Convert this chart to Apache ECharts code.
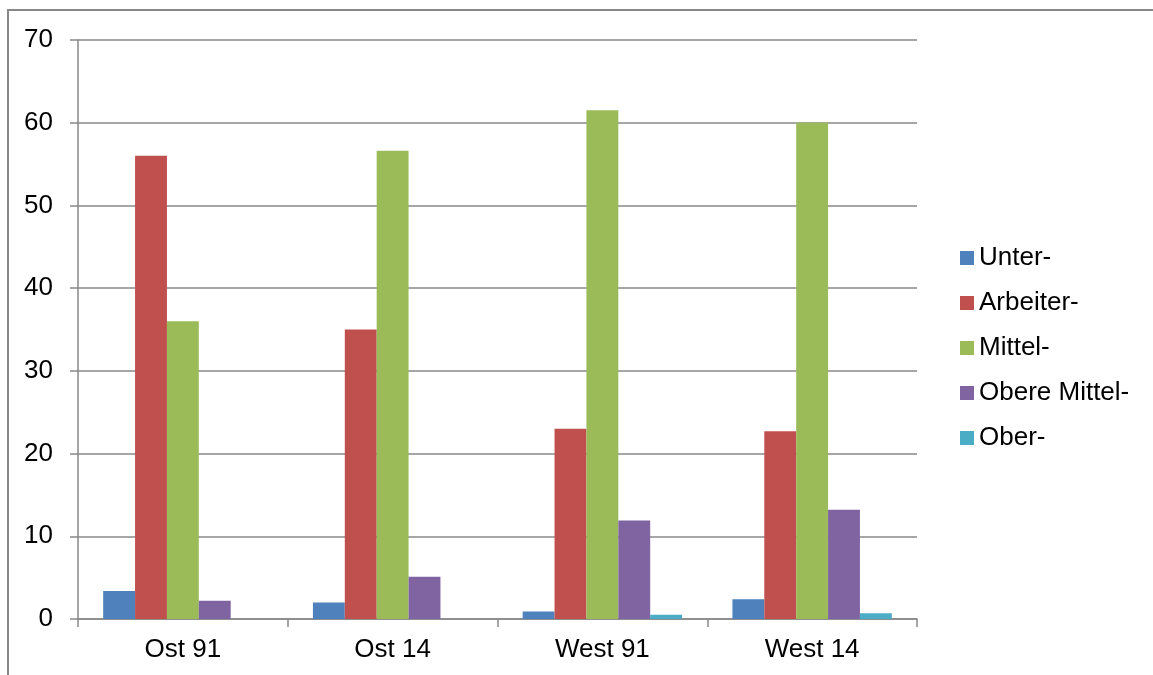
<!DOCTYPE html>
<html>
<head>
<meta charset="utf-8">
<script src="https://cdn.jsdelivr.net/npm/echarts@6/dist/echarts.min.js"></script>
<style>
html,body{margin:0;padding:0;background:#fff;}
#c{width:1153px;height:675px;}
</style>
</head>
<body>
<div id="c"></div>
<script>
const categories = ['Ost 91', 'Ost 14', 'West 91', 'West 14'];
const seriesNames = ['Unter-', 'Arbeiter-', 'Mittel-', 'Obere Mittel-', 'Ober-'];
const unter = [3.4, 2.0, 0.9, 2.4];
const arbeiter = [56.0, 35.0, 23.0, 22.7];
const mittel = [36.0, 56.6, 61.5, 60.0];
const obereMittel = [2.2, 5.1, 11.9, 13.2];
const ober = [0, 0, 0.5, 0.7];
const yTicks = [0, 10, 20, 30, 40, 50, 60, 70];

const colors = ['#4F81BD', '#C0504D', '#9BBB59', '#8064A2', '#4BACC6'];
const values = [unter, arbeiter, mittel, obereMittel, ober];
const font = 'Liberation Sans, Arial, sans-serif';
const lineColor = '#888888';

const chart = echarts.init(document.getElementById('c'), null, {renderer: 'canvas'});
chart.setOption({
  animation: false,
  backgroundColor: '#ffffff',
  color: colors,
  graphic: [{
    type: 'rect',
    shape: {x: 8, y: 10, width: 1300, height: 800},
    style: {fill: 'none', stroke: lineColor, lineWidth: 2},
    silent: true
  }],
  grid: {left: 78, right: 236, top: 40, bottom: 56, containLabel: false},
  legend: {
    orient: 'vertical',
    left: 955,
    top: 240,
    itemWidth: 14,
    itemHeight: 14,
    itemGap: 19,
    icon: 'rect',
    textStyle: {fontFamily: font, fontSize: 26, color: '#000'},
    data: seriesNames
  },
  xAxis: {
    type: 'category',
    data: categories,
    axisLine: {lineStyle: {color: lineColor, width: 1.5}},
    axisTick: {show: true, length: 8, lineStyle: {color: lineColor, width: 1.5}},
    axisLabel: {fontFamily: font, fontSize: 26, color: '#000', margin: 18}
  },
  yAxis: {
    type: 'value',
    min: yTicks[0],
    max: yTicks[yTicks.length - 1],
    interval: 10,
    axisLine: {show: true, lineStyle: {color: lineColor, width: 1.5}},
    axisTick: {show: true, length: 8, lineStyle: {color: lineColor, width: 1.5}},
    splitLine: {show: true, lineStyle: {color: lineColor, width: 1.5}},
    axisLabel: {fontFamily: font, fontSize: 26, color: '#000', margin: 25}
  },
  series: seriesNames.map((name, i) => ({
    name: name,
    type: 'bar',
    data: values[i],
    barGap: '0%',
    barCategoryGap: '24%',
    itemStyle: {color: colors[i]}
  }))
});
</script>
</body>
</html>
